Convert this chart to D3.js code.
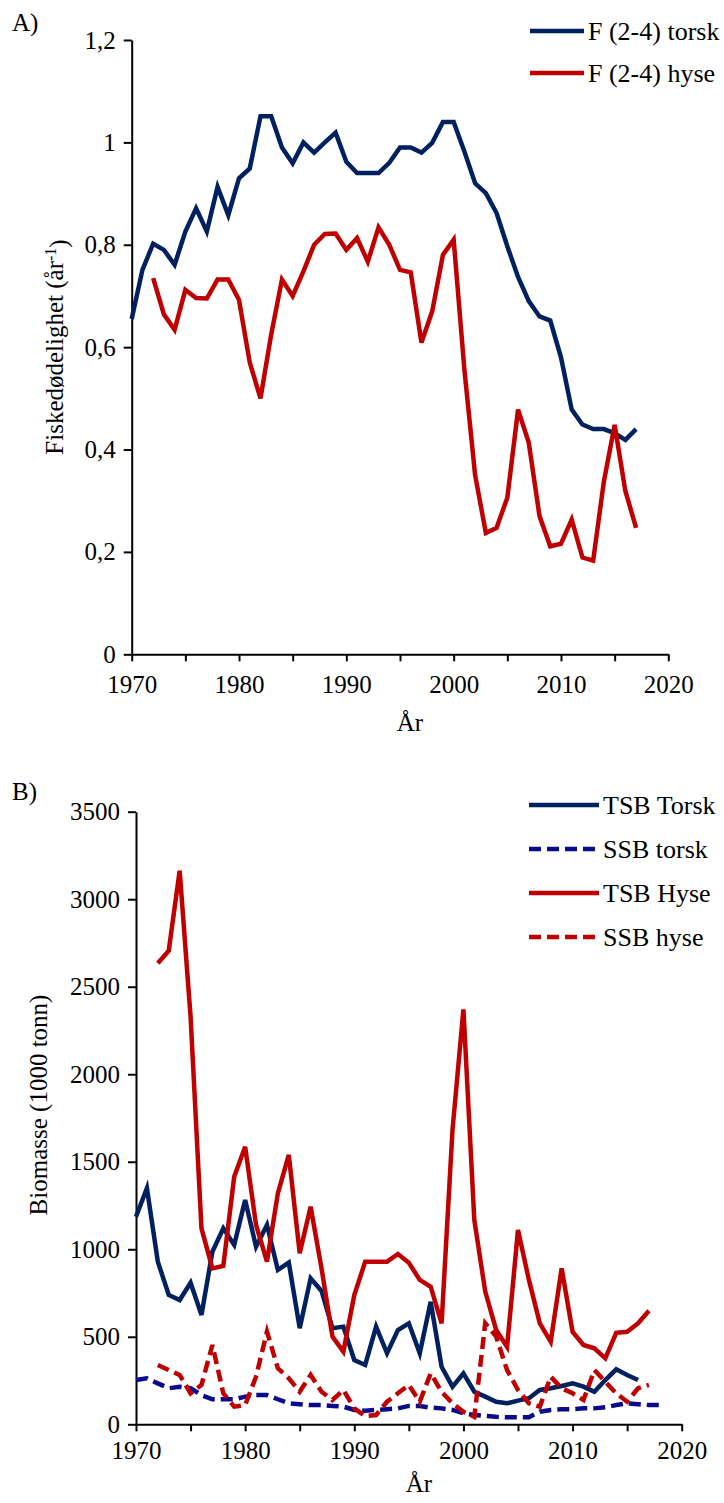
<!DOCTYPE html>
<html>
<head>
<meta charset="utf-8">
<script src="https://cdn.jsdelivr.net/npm/d3@7"></script>
<style>
  html, body { margin: 0; padding: 0; background: #fff; }
  svg { display: block; }
  text { font-family: "Liberation Serif", "Times New Roman", serif; fill: #000; }
</style>
</head>
<body>
<svg id="chart" width="724" height="1503"></svg>
<script>
// ---- Panel A: fishing mortality F(2-4) ----
const fTorskStart = 1970;
const fTorsk = [
  0.655, 0.751, 0.802, 0.790, 0.761, 0.826, 0.871, 0.826, 0.913, 0.858,
  0.930, 0.949, 1.051, 1.051, 0.990, 0.959, 1.000, 0.980, 1.000, 1.019,
  0.962, 0.940, 0.940, 0.940, 0.960, 0.990, 0.990, 0.980, 0.999, 1.040,
  1.040, 0.982, 0.920, 0.901, 0.862, 0.797, 0.737, 0.690, 0.660, 0.652,
  0.580, 0.478, 0.449, 0.440, 0.440, 0.432, 0.419, 0.440
];
const fHyseStart = 1972;
const fHyse = [
  0.735, 0.664, 0.634, 0.712, 0.696, 0.695, 0.732, 0.732,
  0.692, 0.570, 0.500, 0.625, 0.732, 0.700, 0.748, 0.800, 0.821, 0.822,
  0.790, 0.813, 0.767, 0.834, 0.800, 0.751, 0.746, 0.609, 0.670, 0.780,
  0.810, 0.556, 0.350, 0.237, 0.247, 0.306, 0.478, 0.413, 0.270, 0.211,
  0.216, 0.263, 0.189, 0.183, 0.338, 0.448, 0.319, 0.247
];
const fTicks = [0, 0.2, 0.4, 0.6, 0.8, 1.0, 1.2];

// ---- Panel B: biomass (1000 tonnes) ----
const tsbTorskStart = 1970;
const tsbTorsk = [
  1186, 1349, 929, 739, 710, 809, 625, 986, 1120, 1025,
  1282, 1015, 1139, 882, 924, 549, 834, 762, 549, 558,
  367, 339, 558, 406, 539, 577, 406, 700, 329, 215,
  291, 186, 158, 129, 120, 135, 149, 196, 206, 219,
  234, 215, 186, 253, 314, 282, 253
];
const ssbTorskStart = 1970;
const ssbTorsk = [
  253, 263, 234, 206, 215, 206, 167, 143, 143, 143,
  158, 167, 167, 143, 120, 115, 110, 110, 105, 101,
  82, 78, 82, 86, 91, 105, 105, 95, 91, 82,
  63, 53, 48, 43, 40, 40, 40, 72, 82, 86,
  86, 91, 91, 97, 110, 120, 115, 110, 110
];
const tsbHyseStart = 1972;
const tsbHyse = [
  2634, 2706, 3163, 2330, 1120, 891, 905, 1415,
  1586, 1139, 929, 1320, 1539, 977, 1243, 891, 501, 415,
  739, 929, 929, 929, 973, 923, 825, 786, 577, 1682,
  2370, 1167, 758, 539, 443, 1110, 825, 577, 472, 891,
  529, 453, 434, 377, 523, 529, 577, 649
];
const ssbHyseStart = 1972;
const ssbHyse = [
  339, 310, 282, 177, 225, 453, 177, 101,
  110, 272, 529, 320, 263, 186, 282, 186, 139, 196,
  91, 47, 53, 129, 177, 225, 129, 291, 186, 120,
  72, 43, 577, 501, 310, 196, 120, 101, 272, 206,
  177, 139, 310, 243, 177, 129, 206, 225
];
const bTicks = [0, 500, 1000, 1500, 2000, 2500, 3000, 3500];

const xTicksMajor = [1970, 1980, 1990, 2000, 2010, 2020];
const xTicksAll = [1970, 1975, 1980, 1985, 1990, 1995, 2000, 2005, 2010, 2015, 2020];

const NAVY = "#002060";
const BLUE = "#0a0a8c";
const RED = "#c00000";

const svg = d3.select("#chart");

function toPoints(start, values) {
  return values.map((v, i) => ({ year: start + i, value: v }));
}

function drawPanel(cfg) {
  const g = svg.append("g");
  const x = d3.scaleLinear().domain([1970, 2020]).range(cfg.xRange);
  const y = d3.scaleLinear().domain(cfg.yDomain).range(cfg.yRange);

  // y axis
  const yAxis = d3.axisLeft(y)
    .tickValues(cfg.yTicks)
    .tickSize(8)
    .tickSizeOuter(0)
    .tickPadding(8)
    .tickFormat(cfg.yFormat);
  const ya = g.append("g")
    .attr("transform", `translate(${cfg.xRange[0]},0)`)
    .attr("font-family", '"Liberation Serif", serif')
    .call(yAxis);
  ya.selectAll("path.domain").attr("stroke", "#000").attr("stroke-width", 2);
  ya.selectAll(".tick line").attr("stroke", "#000").attr("stroke-width", 2);
  ya.selectAll(".tick text")
    .style("font-family", '"Liberation Serif", serif')
    .style("font-size", "25px")
    .attr("fill", "#000");

  // x axis
  const xAxis = d3.axisBottom(x)
    .tickValues(xTicksAll)
    .tickSize(7)
    .tickSizeOuter(0)
    .tickPadding(cfg.xPad)
    .tickFormat(d => xTicksMajor.includes(d) ? d3.format("d")(d) : "");
  const xa = g.append("g")
    .attr("transform", `translate(0,${cfg.yRange[0]})`)
    .attr("font-family", '"Liberation Serif", serif')
    .call(xAxis);
  xa.selectAll("path.domain").attr("stroke", "#000").attr("stroke-width", 2);
  xa.selectAll(".tick line").attr("stroke", "#000").attr("stroke-width", 2);
  xa.selectAll(".tick text")
    .style("font-family", '"Liberation Serif", serif')
    .style("font-size", "25px")
    .attr("fill", "#000");

  // series
  const line = d3.line()
    .x(d => x(d.year))
    .y(d => y(d.value))
    .curve(d3.curveLinear);

  cfg.series.forEach(s => {
    g.append("path")
      .datum(toPoints(s.start, s.values))
      .attr("fill", "none")
      .attr("stroke", s.color)
      .attr("stroke-width", 4.5)
      .attr("stroke-linejoin", "miter")
      .attr("stroke-miterlimit", 4)
      .attr("stroke-dasharray", s.dash || null)
      .attr("d", line);
  });

  // legend
  cfg.series.forEach((s, i) => {
    const ly = cfg.legend.y + i * cfg.legend.step;
    g.append("line")
      .attr("x1", cfg.legend.x1).attr("x2", cfg.legend.x2)
      .attr("y1", ly).attr("y2", ly)
      .attr("stroke", s.color)
      .attr("stroke-width", 4.5)
      .attr("stroke-dasharray", s.dash || null);
    g.append("text")
      .attr("x", cfg.legend.x2 + 4)
      .attr("y", ly)
      .attr("dy", "0.33em")
      .style("font-size", "26px")
      .text(s.name);
  });

  // panel letter
  g.append("text")
    .attr("x", 12).attr("y", cfg.letterY)
    .style("font-size", "25px")
    .text(cfg.letter);

  // x title
  g.append("text")
    .attr("x", (cfg.xRange[0] + cfg.xRange[1]) / 2 + 10)
    .attr("y", cfg.yRange[0] + cfg.xTitleOffset)
    .attr("text-anchor", "middle")
    .style("font-size", "25px")
    .text("År");

  return { g, x, y };
}

// Panel A
const A = drawPanel({
  xRange: [131.7, 668.3],
  yRange: [654.3, 40],
  yDomain: [0, 1.2],
  yTicks: fTicks,
  yFormat: d => d3.format(".1f")(d).replace(".0", "").replace(".", ","),
  letter: "A)",
  letterY: 31,
  xPad: 14,
  xTitleOffset: 77,
  legend: { x1: 530, x2: 584, y: 31, step: 42 },
  series: [
    { name: "F (2-4) torsk", start: fTorskStart, values: fTorsk, color: NAVY },
    { name: "F (2-4) hyse", start: fHyseStart, values: fHyse, color: RED }
  ]
});
// y title with superscript
const ytA = A.g.append("text")
  .attr("transform", "translate(63,347) rotate(-90)")
  .attr("text-anchor", "middle")
  .style("font-size", "25px");
ytA.append("tspan").text("Fiskedødelighet (år");
ytA.append("tspan").attr("dy", "-0.45em").style("font-size", "16px").text("-1");
ytA.append("tspan").attr("dy", "0.45em").text(")");

// Panel B
const B = drawPanel({
  xRange: [136, 681.7],
  yRange: [1424.3, 811.7],
  yDomain: [0, 3500],
  yTicks: bTicks,
  yFormat: d3.format("d"),
  letter: "B)",
  letterY: 800,
  xPad: 10,
  xTitleOffset: 68,
  legend: { x1: 529, x2: 599, y: 805, step: 44 },
  series: [
    { name: "TSB Torsk", start: tsbTorskStart, values: tsbTorsk, color: NAVY },
    { name: "SSB torsk", start: ssbTorskStart, values: ssbTorsk, color: BLUE, dash: "12,6" },
    { name: "TSB Hyse", start: tsbHyseStart, values: tsbHyse, color: RED },
    { name: "SSB hyse", start: ssbHyseStart, values: ssbHyse, color: RED, dash: "12,6" }
  ]
});
B.g.append("text")
  .attr("transform", "translate(47,1105) rotate(-90)")
  .attr("text-anchor", "middle")
  .style("font-size", "25px")
  .text("Biomasse (1000 tonn)");
</script>
</body>
</html>
